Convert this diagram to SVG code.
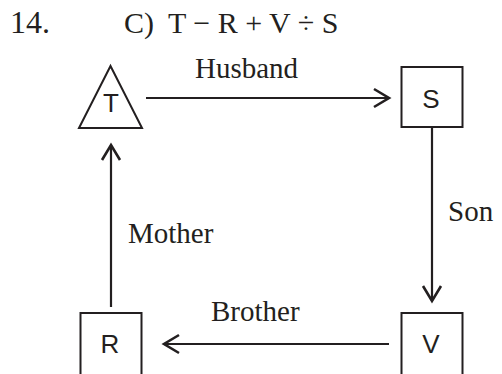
<svg xmlns="http://www.w3.org/2000/svg" width="502" height="374" viewBox="0 0 502 374">
<style>
.serif{font-family:"Liberation Serif","Times New Roman",serif;fill:#231f20}
.title{font-size:30px}
.lbl{font-size:29px}
.node{fill:#fff;stroke:#231f20;stroke-width:2}
.nt{font-family:"Liberation Sans",Arial,sans-serif;font-size:26px;fill:#231f20;text-anchor:middle}
.edge{stroke:#231f20;stroke-width:2.2;fill:none}
</style>
<defs>
<marker id="ah" markerUnits="userSpaceOnUse" markerWidth="24" markerHeight="24" viewBox="-18 -12 20 24" refX="0" refY="0" orient="auto">
<path d="M-15,-9 L0,0 L-15,9" fill="none" stroke="#231f20" stroke-width="2.6" stroke-linejoin="miter"/>
</marker>
</defs>
<rect width="502" height="374" fill="#fff"/>
<g id="title">
<text class="serif" x="10" y="33" font-size="32">14.</text>
<text class="serif title" x="124" y="33">C)</text>
<text class="serif title" x="168" y="33" xml:space="preserve">T − R + V ÷ S</text>
</g>
<g id="connectors">
<line class="edge" x1="146" y1="98" x2="389" y2="98" marker-end="url(#ah)"/>
<line class="edge" x1="432" y1="128" x2="432" y2="301" marker-end="url(#ah)"/>
<line class="edge" x1="389" y1="344" x2="164" y2="344" marker-end="url(#ah)"/>
<line class="edge" x1="111" y1="307" x2="111" y2="145" marker-end="url(#ah)"/>
<text class="serif lbl" x="195" y="78">Husband</text>
<text class="serif lbl" x="448" y="221">Son</text>
<text class="serif lbl" x="211" y="321">Brother</text>
<text class="serif lbl" x="128" y="243">Mother</text>
</g>
<g id="node-T">
<polygon class="node" points="110.5,66 79,128 142,128"/>
<text class="nt" x="111" y="112">T</text>
</g>
<g id="node-S">
<rect class="node" x="401.5" y="67" width="61" height="60"/>
<text class="nt" x="431" y="108">S</text>
</g>
<g id="node-R">
<rect class="node" x="80.5" y="313" width="61" height="70"/>
<text class="nt" x="110" y="353">R</text>
</g>
<g id="node-V">
<rect class="node" x="401.5" y="313" width="61" height="70"/>
<text class="nt" x="431" y="353">V</text>
</g>
</svg>
